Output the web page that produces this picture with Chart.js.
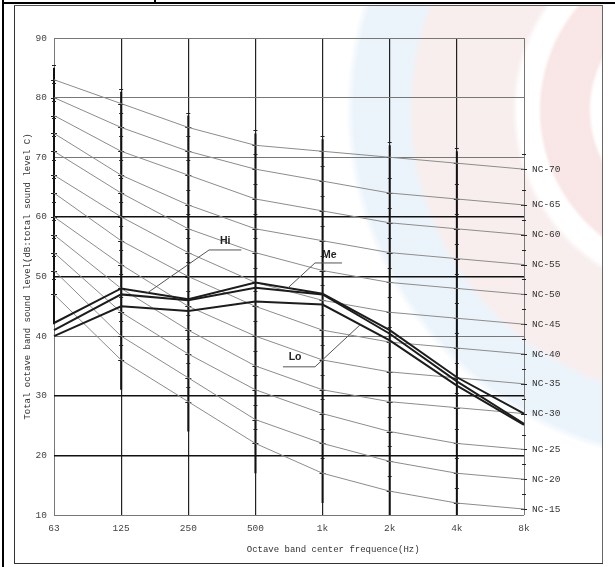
<!DOCTYPE html>
<html>
<head>
<meta charset="utf-8">
<script src="https://cdn.jsdelivr.net/npm/chart.js@4.4.0/dist/chart.umd.min.js"></script>
<style>
html,body{margin:0;padding:0;background:#fff;}
#wrap{position:absolute;left:0;top:0;width:615px;height:567px;overflow:hidden;background:#fff;}
#bg{position:absolute;left:15px;top:6px;width:587px;height:557px;
 background:radial-gradient(circle at 685px 104px,
   rgba(255,255,255,0) 0px, rgba(255,255,255,0) 108px,
   rgba(236,176,176,0.32) 112px, rgba(236,176,176,0.32) 158px,
   rgba(255,255,255,0) 162px, rgba(255,255,255,0) 182px,
   rgba(238,214,214,0.42) 188px, rgba(238,214,214,0.42) 286px,
   rgba(212,230,245,0.45) 292px, rgba(212,230,245,0.45) 346px,
   rgba(255,255,255,0) 354px);}
.ln{position:absolute;background:#000;}
canvas{position:absolute;left:0;top:0;}
</style>
</head>
<body>
<div id="wrap">
  <div id="bg"></div>
  <div class="ln" style="left:2px;top:0;width:2px;height:567px;"></div>
  <div class="ln" style="left:2px;top:2px;width:613px;height:2px;"></div>
  <div class="ln" style="left:154px;top:0;width:2px;height:4px;"></div>
  <div class="ln" style="left:14px;top:5px;width:1px;height:559px;background:#333;"></div>
  <div class="ln" style="left:14px;top:5px;width:589px;height:1px;background:#555;"></div>
  <div class="ln" style="left:602px;top:5px;width:1px;height:559px;background:#666;"></div>
  <div class="ln" style="left:14px;top:563px;width:589px;height:1px;background:#333;"></div>
  <canvas id="c" width="615" height="567"></canvas>
</div>
<script>
// ---- data ----
const categories = ['63','125','250','500','1k','2k','4k','8k'];
const nc15 = [47,36,29,22,17,14,12,11];
const nc20 = [51,40,33,26,22,19,17,16];
const nc25 = [54,44,37,31,27,24,22,21];
const nc30 = [57,48,41,35,31,29,28,27];
const nc35 = [60,52,45,40,36,34,33,32];
const nc40 = [64,56,50,45,41,39,38,37];
const nc45 = [67,60,54,49,46,44,43,42];
const nc50 = [71,64,58,54,51,49,48,47];
const nc55 = [74,67,62,58,56,54,53,52];
const nc60 = [77,71,67,63,61,59,58,57];
const nc65 = [80,75,71,68,66,64,63,62];
const nc70 = [83,79,75,72,71,70,69,68];
const ncNames = ['NC-15','NC-20','NC-25','NC-30','NC-35','NC-40','NC-45','NC-50','NC-55','NC-60','NC-65','NC-70'];
const hiLevel = [42.2,48,46.2,49,47.1,41,33.1,27];
const meLevel = [41,47,46,48.1,47,40.4,32.4,25.3];
const loLevel = [40,45,44.2,45.8,45.3,39.3,31.7,25.1];
const seriesNames = ['Hi','Me','Lo'];
const yTickValues = [10,20,30,40,50,60,70,80,90];

// ---- styling / annotation placement (data coordinates) ----
const ncCurves = [nc15,nc20,nc25,nc30,nc35,nc40,nc45,nc50,nc55,nc60,nc65,nc70];
const callouts = [
  {text:[2.55,55.9], path:[[2.79,54.45],[2.31,54.45],[1.385,47.2]]},
  {text:[4.10,53.6], path:[[4.29,52.27],[3.887,52.27],[3.485,48.1]]},
  {text:[3.59,36.4], path:[[3.41,34.85],[3.887,34.85],[4.56,41.9]]}
];
const MONO = "'Liberation Mono', 'DejaVu Sans Mono', monospace";
const darkY = [20,30,50,60];

const datasets = [];
ncCurves.forEach((arr,i)=>{
  datasets.push({label:ncNames[i], data:arr, borderColor:'#8c8c8c', borderWidth:1,
    pointRadius:0, tension:0, fill:false, order:2});
});
[hiLevel,meLevel,loLevel].forEach((arr,i)=>{
  datasets.push({label:seriesNames[i], data:arr, borderColor:'#1c1c1c', borderWidth:2,
    pointRadius:0, tension:0, fill:false, order:0});
});

const decor = {
  id:'decor',
  beforeDatasetsDraw(chart){
    const ctx = chart.ctx, xs = chart.scales.x, ys = chart.scales.y;
    ctx.save();
    for(let i=0;i<categories.length;i++){
      const x = xs.getPixelForValue(i);
      const vals = ncCurves.map(a=>a[i]);
      const mx = Math.max(...vals), mn = Math.min(...vals);
      if(i<categories.length-1){
        ctx.strokeStyle = '#111'; ctx.lineWidth = 2;
        ctx.beginPath();
        ctx.moveTo(x, ys.getPixelForValue(Math.min(90,mx+2)));
        ctx.lineTo(x, ys.getPixelForValue(Math.max(10,mn-5)));
        ctx.stroke();
      }
      ctx.strokeStyle = '#222'; ctx.lineWidth = 1;
      vals.forEach(v=>{
        const y = Math.round(ys.getPixelForValue(v))+0.5;
        ctx.beginPath(); ctx.moveTo(x-3,y); ctx.lineTo(x+3,y); ctx.stroke();
        const y2 = Math.round(ys.getPixelForValue(v+2.5))+0.5;
        ctx.beginPath(); ctx.moveTo(x-2,y2); ctx.lineTo(x+2,y2); ctx.stroke();
      });
    }
    ctx.restore();
  },
  afterDatasetsDraw(chart){
    const ctx = chart.ctx, xs = chart.scales.x, ys = chart.scales.y, ca = chart.chartArea;
    ctx.save();
    ctx.font = '9.5px ' + MONO; ctx.fillStyle = '#333';
    ctx.textAlign = 'left'; ctx.textBaseline = 'middle';
    ncCurves.forEach((arr,i)=>{
      ctx.fillText(ncNames[i], ca.right + 8, ys.getPixelForValue(arr[arr.length-1]));
    });
    callouts.forEach((c,i)=>{
      ctx.strokeStyle = '#555'; ctx.lineWidth = 1;
      ctx.beginPath();
      c.path.forEach((p,j)=>{
        const px = xs.getPixelForValue(p[0]), py = ys.getPixelForValue(p[1]);
        if(j===0) ctx.moveTo(px,py); else ctx.lineTo(px,py);
      });
      ctx.stroke();
      ctx.font = 'bold 10.5px "Liberation Sans", Arial, sans-serif';
      ctx.fillStyle = '#222'; ctx.textAlign = 'center'; ctx.textBaseline = 'middle';
      ctx.fillText(seriesNames[i], xs.getPixelForValue(c.text[0]), ys.getPixelForValue(c.text[1]));
    });
    ctx.font = '9px ' + MONO; ctx.fillStyle = '#333';
    ctx.textAlign = 'center'; ctx.textBaseline = 'middle';
    ctx.fillText('Octave band center frequence(Hz)', ca.left + 0.594*(ca.right-ca.left), ca.bottom + 35);
    ctx.restore();
  }
};

new Chart(document.getElementById('c'), {
  type:'line',
  data:{labels:categories, datasets:datasets},
  options:{
    responsive:false, animation:false, devicePixelRatio:1,
    layout:{padding:{left:18, top:38, right:91, bottom:0}},
    plugins:{legend:{display:false}, tooltip:{enabled:false}},
    scales:{
      x:{
        type:'category', offset:false,
        afterFit(s){ s.height = 52; },
        grid:{drawTicks:false,
          color:(c)=> (c.index===0||c.index===categories.length-1)?'#777':'#222',
          lineWidth:(c)=> (c.index===0||c.index===categories.length-1)?1:1.2},
        border:{display:false},
        ticks:{padding:8, maxRotation:0, autoSkip:false, color:'#444', font:{family:MONO, size:9.5}}
      },
      y:{
        min:yTickValues[0], max:yTickValues[yTickValues.length-1],
        afterFit(s){ s.width = 36; },
        afterBuildTicks(s){ s.ticks = yTickValues.map(v=>({value:v})); },
        grid:{drawTicks:false,
          color:(c)=> darkY.includes(c.tick.value)?'#111':'#777',
          lineWidth:(c)=> darkY.includes(c.tick.value)?1.5:1},
        border:{display:false},
        ticks:{padding:7, color:'#444', font:{family:MONO, size:9.5}},
        title:{display:true, text:'Total octave band sound level(dB:total sound level C)',
          color:'#333', font:{family:MONO, size:9}, padding:{top:4,bottom:4}}
      }
    }
  },
  plugins:[decor]
});
</script>
</body>
</html>
